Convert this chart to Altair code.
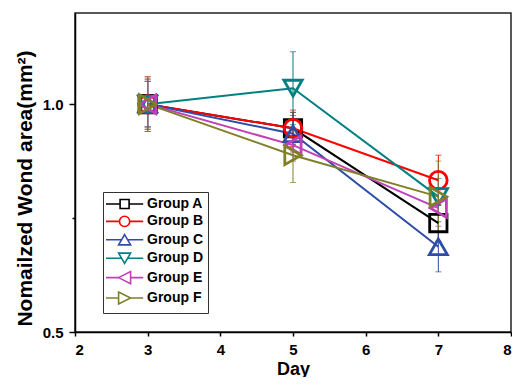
import altair as alt
import pandas as pd

# ---------------- data ----------------
groups = ["Group A", "Group B", "Group C", "Group D", "Group E", "Group F"]
days = [3, 5, 7]

group_a = [1.000, 0.947, 0.739]
group_b = [1.000, 0.947, 0.833]
group_c = [1.000, 0.935, 0.687]
group_d = [1.000, 1.035, 0.797]
group_e = [1.000, 0.910, 0.772]
group_f = [1.000, 0.888, 0.797]

err_a = [0.055, 0.035, 0.040]
err_b = [0.060, 0.040, 0.055]
err_c = [0.050, 0.040, 0.055]
err_d = [0.050, 0.080, 0.040]
err_e = [0.050, 0.035, 0.040]
err_f = [0.060, 0.060, 0.078]

x_ticks = [2, 3, 4, 5, 6, 7, 8]
y_ticks = [0.5, 0.75, 1.0]
y_domain = [0.5, 1.2]
x_domain = [2, 8]

x_title = "Day"
y_title = "Nomailzed Wond area(mm²)"

# ---------------- styles ----------------
colors = ["#000000", "#FF0000", "#2E4DA8", "#008080", "#C040B8", "#808028"]
shapes = ["square", "circle", "triangle-up", "triangle-down", "triangle-left", "triangle-right"]
sizes = [300, 360, 520, 520, 480, 480]
# legend glyphs: a line with the marker on it (units of symbol radius)
legend_paths = [
    "M-1.5,0H0.85M2.35,0H4.7M0.85,-0.75H2.35V0.75H0.85Z",
    "M-1.5,0H0.75M2.45,0H4.7M2.45,0A0.85,0.85,0,1,1,0.75,0A0.85,0.85,0,1,1,2.45,0Z",
    "M-1.5,0H1.1M2.1,0H4.7M1.6,-0.85L2.6,0.85L0.6,0.85Z",
    "M-1.5,0H1.1M2.1,0H4.7M1.6,0.85L2.6,-0.85L0.6,-0.85Z",
    "M-1.5,0H0.6M2.6,0H4.7M0.6,0L2.6,-1L2.6,1Z",
    "M-1.5,0H0.6M2.6,0H4.7M2.6,0L0.6,-1L0.6,1Z",
]

series = [group_a, group_b, group_c, group_d, group_e, group_f]
errs = [err_a, err_b, err_c, err_d, err_e, err_f]
rows = []
for g, vals, es in zip(groups, series, errs):
    for d, v, e in zip(days, vals, es):
        rows.append({"group": g, "day": d, "value": v, "lo": v - e, "hi": v + e})
df = pd.DataFrame(rows)

FONT = "Liberation Sans"
W, H = 436, 319

x_axis = alt.Axis(
    values=x_ticks, format="d", grid=False,
    labelFont=FONT, labelFontSize=15, labelFontWeight="bold", labelColor="black",
    labelPadding=6, tickSize=4, tickWidth=1.5, tickColor="black",
    domainColor="black", domainWidth=1.5,
    titleFont=FONT, titleFontSize=18, titleFontWeight="bold", titleColor="black",
    titleX=W / 2, titleY=42, titleBaseline="alphabetic", titleAnchor="middle",
)
y_axis = alt.Axis(
    values=y_ticks, grid=False,
    labelExpr="datum.value == 0.75 ? '' : format(datum.value, '.1f')",
    labelFont=FONT, labelFontSize=15, labelFontWeight="bold", labelColor="black",
    labelPadding=6,
    tickSize={"condition": {"test": "datum.value == 0.75", "value": 3}, "value": 6},
    tickWidth=1.5, tickColor="black",
    domainColor="black", domainWidth=1.5,
    titleFont=FONT, titleFontSize=21, titleFontWeight="bold", titleColor="black",
    titleAngle=270, titleX=-44, titleY=175, titleBaseline="alphabetic", titleAlign="center",
)

X = alt.X("day:Q", scale=alt.Scale(domain=x_domain, nice=False, zero=False), axis=x_axis, title=x_title)
Y = alt.Y("value:Q", scale=alt.Scale(domain=y_domain, nice=False, zero=False), axis=y_axis, title=y_title)
color_scale = alt.Scale(domain=groups, range=colors)

base = alt.Chart(df)

errorbars = base.mark_errorbar(ticks=True, size=6, thickness=1).encode(
    x=X,
    y=alt.Y("lo:Q", scale=alt.Scale(domain=y_domain, nice=False, zero=False), axis=y_axis, title=y_title),
    y2="hi:Q",
    color=alt.Color("group:N", scale=color_scale, legend=None),
)

lines = base.mark_line(strokeWidth=2).encode(
    x=X, y=Y,
    color=alt.Color("group:N", scale=color_scale, legend=None),
    order="day:Q",
)

points = base.mark_point(filled=False, strokeWidth=2.8, opacity=1).encode(
    x=X, y=Y,
    color=alt.Color("group:N", scale=color_scale, legend=None),
    shape=alt.Shape("group:N", scale=alt.Scale(domain=groups, range=shapes), legend=None),
    size=alt.Size("group:N", scale=alt.Scale(domain=groups, range=sizes), legend=None),
)

leg = alt.Legend(
    title=None, orient="none", legendX=28, legendY=179,
    padding=5, strokeColor="#333333", fillColor="white",
    labelFont=FONT, labelFontSize=14, labelFontWeight="bold", labelColor="black",
    labelOffset=25, rowPadding=0.4, symbolSize=144, symbolStrokeWidth=1.6,
    symbolFillColor="white",
)

legend_layer = base.mark_point(filled=False, opacity=0).encode(
    x=X, y=Y,
    color=alt.Color("group:N", scale=color_scale, legend=leg),
    shape=alt.Shape("group:N", scale=alt.Scale(domain=groups, range=legend_paths), legend=leg),
)

chart = (
    alt.layer(errorbars, lines, points, legend_layer)
    .resolve_scale(color="independent", shape="independent", size="independent")
    .properties(
        width=W, height=H,
        autosize=alt.AutoSizeParams(type="none"),
        padding={"left": 67, "top": 5, "right": 1, "bottom": 45},
        background="white",
    )
    .configure_view(stroke="#222222", strokeWidth=1.5)
)

chart.save("out.html", embed_options={"renderer": "svg", "actions": False})
